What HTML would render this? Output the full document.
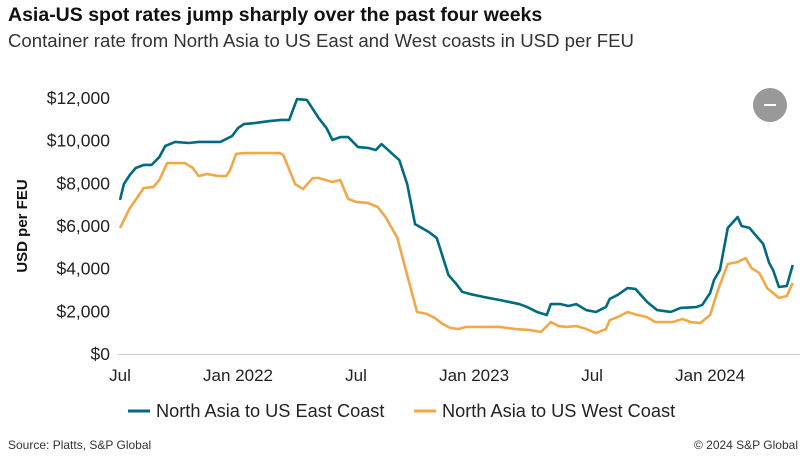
<!DOCTYPE html>
<html><head><meta charset="utf-8"><style>
body{margin:0;width:806px;height:462px;background:#fff;font-family:"Liberation Sans",sans-serif;overflow:hidden;position:relative}
.t{position:absolute;white-space:nowrap;color:#222}
</style></head><body>
<div class="t" style="left:8px;top:4px;font-size:19.5px;font-weight:bold;color:#111">Asia-US spot rates jump sharply over the past four weeks</div>
<div class="t" style="left:8px;top:30px;font-size:18.6px;color:#333">Container rate from North Asia to US East and West coasts in USD per FEU</div>
<svg id="c" width="806" height="462" style="position:absolute;left:0;top:0"></svg>
<div class="t" style="left:8px;top:438px;font-size:12px;color:#333">Source: Platts, S&amp;P Global</div>
<div class="t" style="right:8px;top:438px;font-size:12px;color:#333">© 2024 S&amp;P Global</div>
<div style="position:absolute;left:753px;top:88px;width:34px;height:34px;border-radius:50%;background:#999"><div style="position:absolute;left:11px;top:16px;width:12px;height:2px;background:#fff"></div></div>
<script>
const eastM=[0.0,0.2,0.5,0.8,1.2,1.6,2.0,2.3,2.8,3.5,4.0,5.1,5.7,6.0,6.3,6.9,7.6,8.2,8.6,9.0,9.5,10.1,10.5,10.8,11.2,11.6,12.1,12.6,13.0,13.3,13.8,14.2,14.6,15.0,15.7,16.1,16.3,16.7,17.1,17.4,17.8,18.5,19.3,20.3,20.7,21.2,21.7,21.9,22.4,22.8,23.2,23.7,24.2,24.7,24.9,25.3,25.8,26.2,26.8,27.3,28.0,28.5,29.3,29.6,30.0,30.2,30.5,30.9,31.4,31.6,32.0,32.4,32.7,33.0,33.2,33.5,33.9,34.2];
const eastV=[7220,7970,8390,8720,8860,8860,9230,9750,9940,9890,9940,9940,10220,10590,10780,10830,10920,10970,10970,11950,11910,11060,10590,10030,10170,10170,9700,9660,9560,9840,9420,9090,7970,6090,5720,5440,4870,3700,3280,2910,2810,2670,2530,2340,2200,1970,1830,2340,2340,2250,2340,2060,1970,2200,2580,2770,3090,3050,2440,2060,1970,2160,2200,2300,2860,3470,3940,5910,6420,6000,5910,5480,5160,4270,3940,3140,3190,4170];
const westM=[0.0,0.5,0.9,1.2,1.7,2.0,2.4,3.3,3.7,4.0,4.4,5.0,5.4,5.6,5.9,6.3,8.1,8.3,8.9,9.3,9.8,10.1,10.8,11.2,11.3,11.6,12.0,12.6,13.1,13.5,14.1,14.6,15.1,15.6,16.0,16.4,16.8,17.2,17.6,18.5,19.3,20.1,20.8,21.4,21.9,22.3,22.7,23.2,23.7,24.2,24.7,24.9,25.3,25.8,26.3,26.8,27.2,28.1,28.6,29.0,29.5,30.0,30.4,30.9,31.4,31.8,32.1,32.5,32.9,33.5,33.9,34.2];
const westV=[5910,6840,7360,7780,7830,8160,8950,8950,8720,8340,8440,8340,8340,8630,9380,9420,9420,9330,7970,7730,8250,8250,8060,8160,7920,7270,7130,7080,6890,6420,5440,3700,1970,1880,1690,1410,1220,1170,1270,1270,1270,1170,1130,1030,1500,1310,1270,1310,1170,980,1170,1590,1730,1970,1830,1730,1500,1500,1640,1500,1450,1830,3000,4220,4310,4500,4030,3800,3090,2630,2720,3330];
const yTicks=[0,2000,4000,6000,8000,10000,12000];
const xTickM=[0,6,12,18,24,30];
const xTickLabels=["Jul","Jan 2022","Jul","Jan 2023","Jul","Jan 2024"];
const X=m=>120+m*19.67, Y=v=>354-v*256/12000;
const svg=document.getElementById('c'),NS='http://www.w3.org/2000/svg';
function mk(t,a){const e=document.createElementNS(NS,t);for(const k in a)e.setAttribute(k,a[k]);svg.appendChild(e);return e;}
let ax=mk('line',{x1:118,x2:800,y1:354.5,y2:354.5,stroke:'#ccc','stroke-width':1});


yTicks.forEach(v=>{const t=mk('text',{x:110,y:Y(v)+6,'text-anchor':'end','font-size':17.5,fill:'#222','font-family':'Liberation Sans, sans-serif'});t.textContent='$'+v.toLocaleString('en-US');

});
xTickM.forEach((m,i)=>{const t=mk('text',{x:X(m),y:381,'text-anchor':'middle','font-size':17,fill:'#222','font-family':'Liberation Sans, sans-serif'});t.textContent=xTickLabels[i];

});
const yt=mk('text',{x:0,y:0,transform:'translate(27,226) rotate(-90)','text-anchor':'middle','font-size':15,'font-weight':'bold',fill:'#111','font-family':'Liberation Sans, sans-serif'});yt.textContent='USD per FEU';


function line(ms,vs,col,name){const p=mk('polyline',{points:ms.map((m,i)=>X(m)+','+Y(vs[i])).join(' '),fill:'none',stroke:col,'stroke-width':2.6,'stroke-linejoin':'round'});

}
line(westM,westV,'#f0a848','west-coast-line');
line(eastM,eastV,'#006b80','east-coast-line');
[[128,'#006b80','North Asia to US East Coast','legend-east-coast'],[414,'#f0a848','North Asia to US West Coast','legend-west-coast']].forEach(l=>{
const g=mk('g',{});


const r=document.createElementNS(NS,'line');r.setAttribute('x1',l[0]);r.setAttribute('x2',l[0]+22);r.setAttribute('y1',411);r.setAttribute('y2',411);r.setAttribute('stroke',l[1]);r.setAttribute('stroke-width',3);g.appendChild(r);
const t=document.createElementNS(NS,'text');t.setAttribute('x',l[0]+28);t.setAttribute('y',417);t.setAttribute('font-size',18.2);t.setAttribute('fill','#222');t.setAttribute('font-family','Liberation Sans, sans-serif');t.textContent=l[2];g.appendChild(t);});
</script>
</body></html>
